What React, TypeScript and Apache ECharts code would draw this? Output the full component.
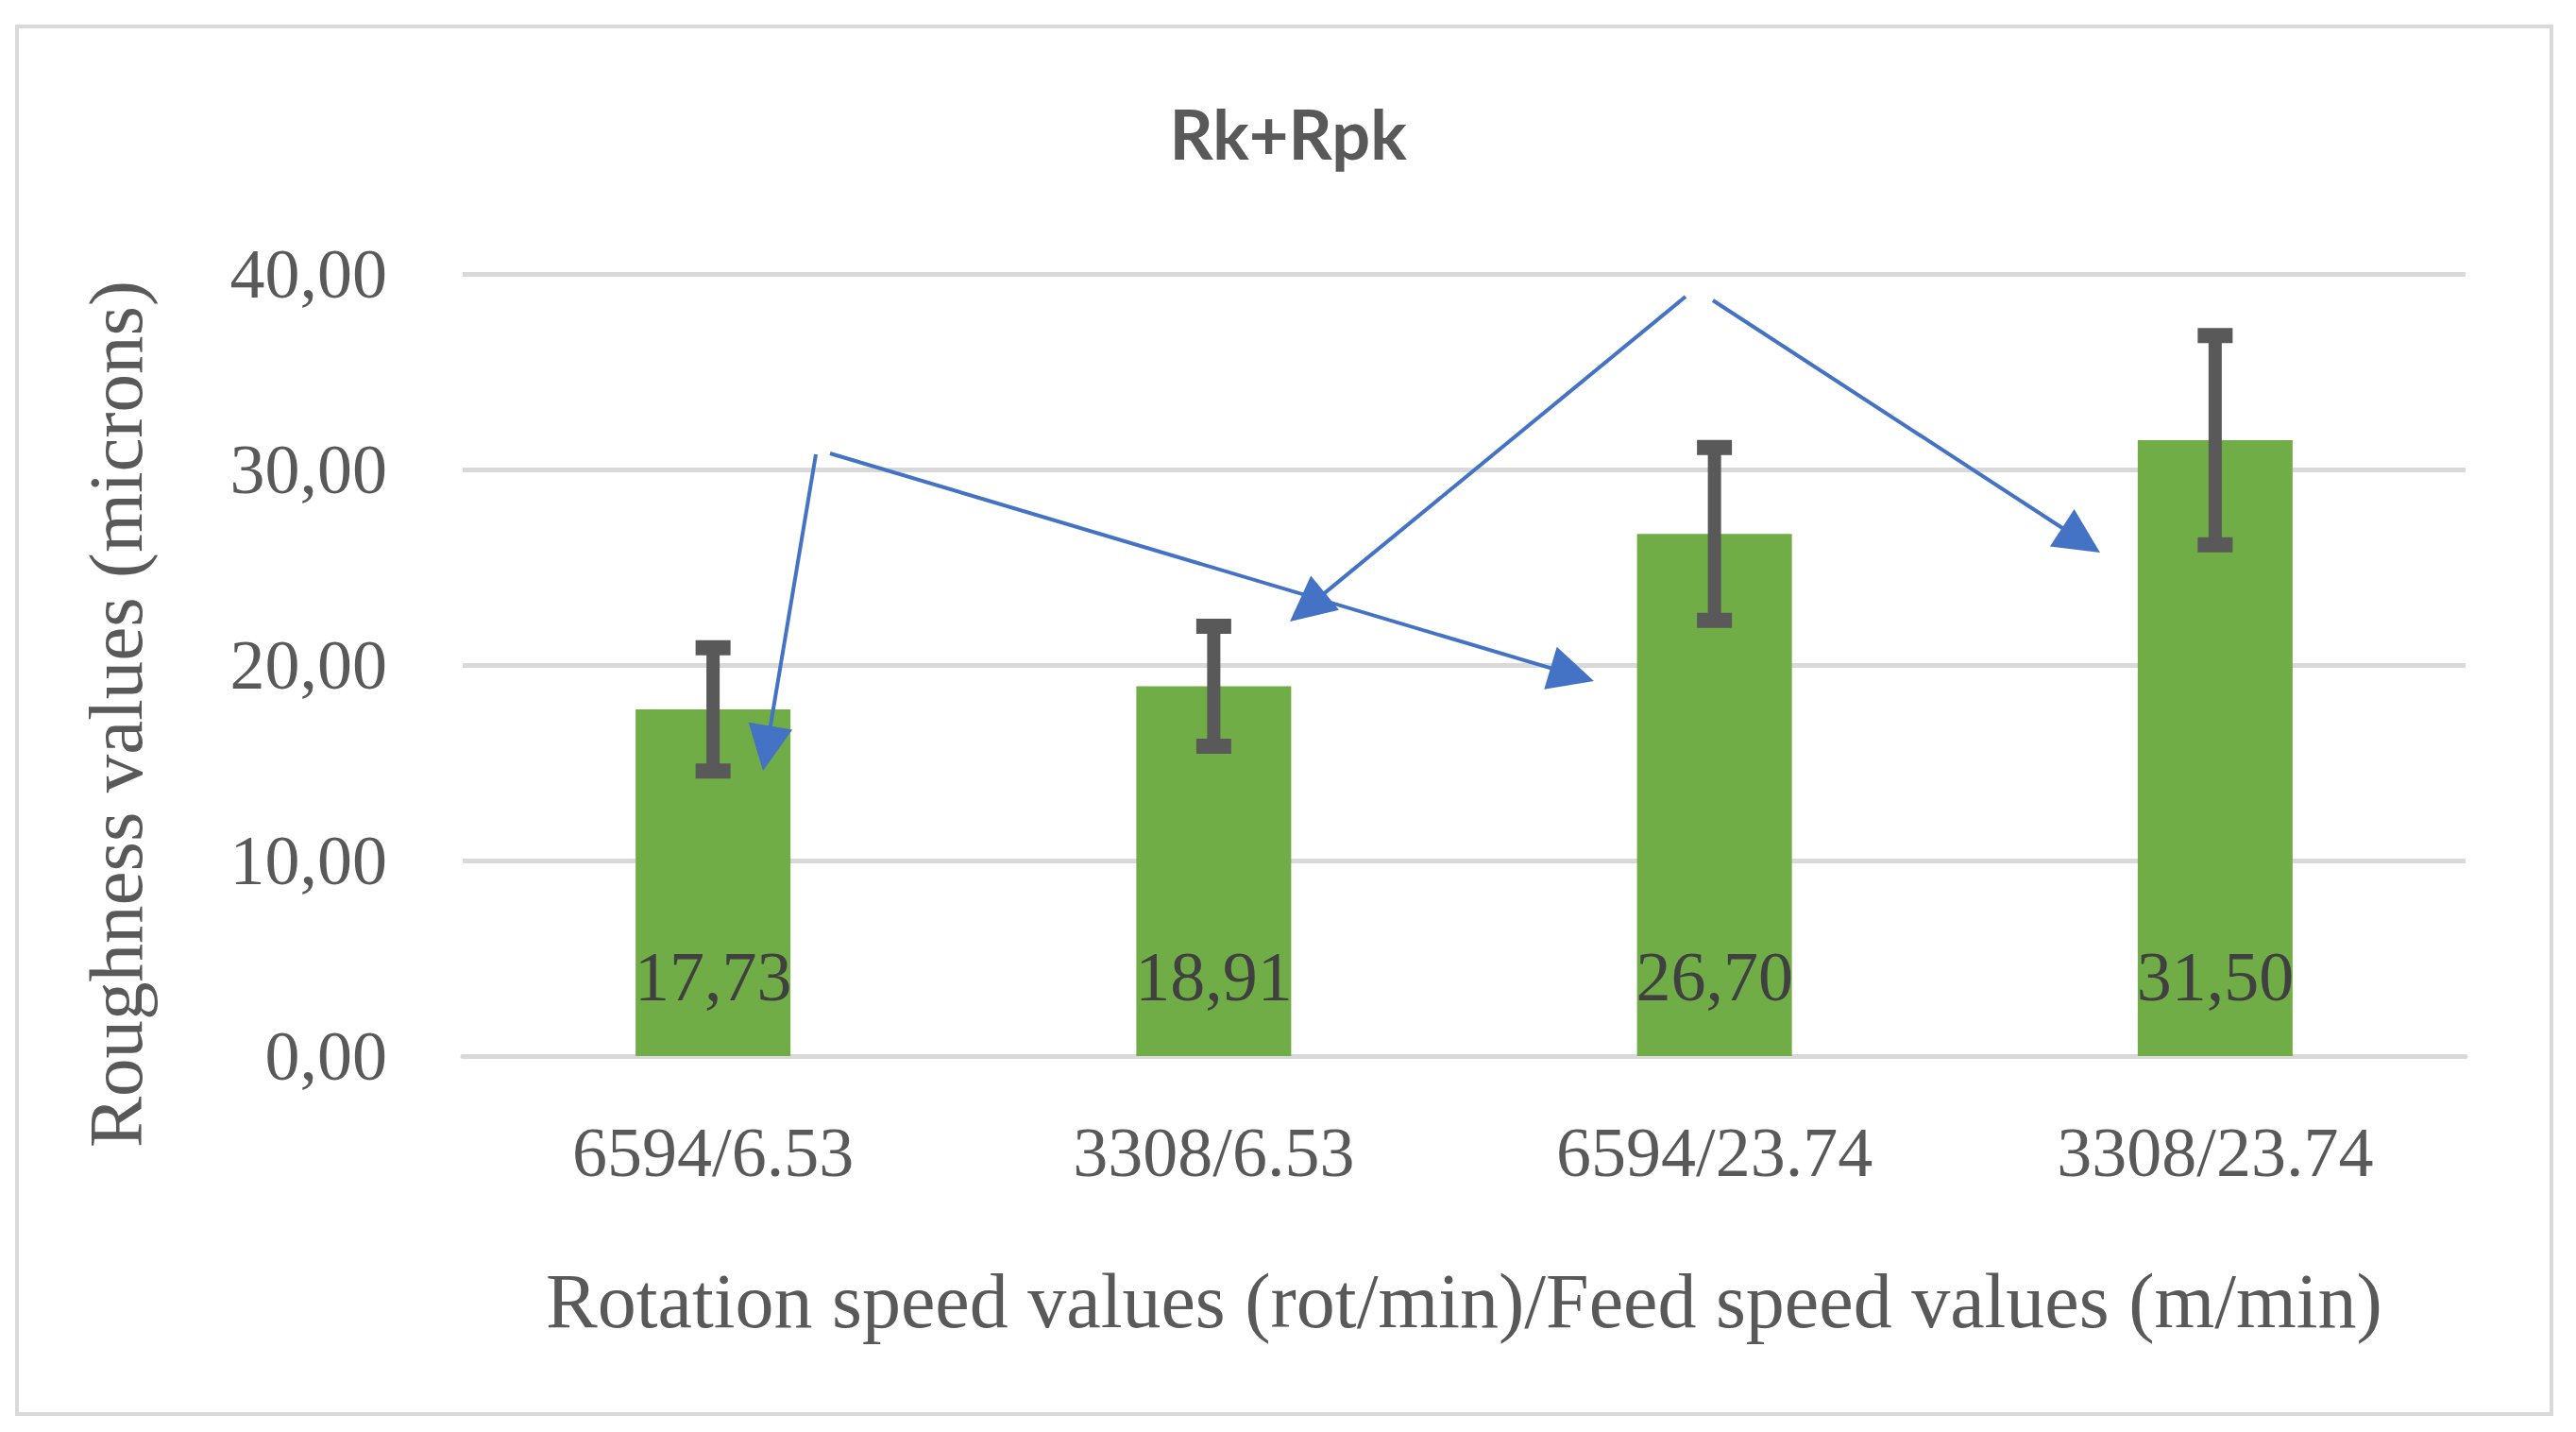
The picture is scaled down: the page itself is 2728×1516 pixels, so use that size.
import React, { useEffect, useRef } from "react";
import * as echarts from "echarts";

const categories = ["6594/6.53", "3308/6.53", "6594/23.74", "3308/23.74"];
const means = [17.73, 18.91, 26.7, 31.5];
const errors = [3.15, 3.07, 4.42, 5.35];
const yTicks = { min: 0, max: 40, interval: 10 };
const titleText = "Rk+Rpk";
const xName = "Rotation speed values (rot/min)/Feed speed values (m/min)";
const yName = "Roughness values (microns)";
// annotation arrows (pixel positions): [startX, startY, tipX, tipY]
const arrows = [
  [864, 481, 808, 816],
  [879, 480, 1688, 721],
  [1785, 314, 1366, 658],
  [1814, 318, 2224, 585],
];

const SERIF = "'Liberation Serif', 'DejaVu Serif', serif";
const GRAY = "#595959";

function arrowGraphics() {
  const out: any[] = [];
  const len = 48;
  const half = 23.5;
  arrows.forEach(([sx, sy, tx, ty]) => {
    const dx = tx - sx;
    const dy = ty - sy;
    const L = Math.sqrt(dx * dx + dy * dy);
    const ux = dx / L;
    const uy = dy / L;
    const bx = tx - ux * len;
    const by = ty - uy * len;
    const nx = -uy;
    const ny = ux;
    out.push({
      type: "line",
      z: 100,
      shape: { x1: sx, y1: sy, x2: bx + ux * 4, y2: by + uy * 4 },
      style: { stroke: "#4472C4", lineWidth: 4 },
    });
    out.push({
      type: "polygon",
      z: 100,
      shape: {
        points: [
          [tx, ty],
          [bx + nx * half, by + ny * half],
          [bx - nx * half, by - ny * half],
        ],
      },
      style: { fill: "#4472C4" },
    });
  });
  return out;
}

export default function App() {
  const ref = useRef<HTMLDivElement>(null);
  useEffect(() => {
    if (!ref.current) return;
    const chart = echarts.init(ref.current, null, { renderer: "svg" });
    const errData = categories.map((_, i) => [i, means[i] + errors[i], means[i] - errors[i]]);
    chart.setOption({
      animation: false,
      backgroundColor: "#ffffff",
      title: {
        text: titleText,
        left: "center",
        top: 100,
        textStyle: { fontFamily: "Lato, 'Open Sans', sans-serif", fontWeight: "bold", fontSize: 72, color: GRAY },
      },
      grid: { left: 490, right: 117, top: 290, bottom: 398, containLabel: false },
      xAxis: {
        type: "category",
        data: categories,
        axisTick: { show: false },
        axisLine: { show: true, lineStyle: { color: "#d9d9d9", width: 5 } },
        axisLabel: { fontFamily: SERIF, fontSize: 74, color: GRAY, margin: 65 },
        name: xName,
        nameLocation: "middle",
        nameGap: 218,
        nameTextStyle: { fontFamily: SERIF, fontSize: 82, color: GRAY },
      },
      yAxis: {
        type: "value",
        min: yTicks.min,
        max: yTicks.max,
        interval: yTicks.interval,
        axisLine: { show: false },
        axisTick: { show: false },
        splitLine: { lineStyle: { color: "#d9d9d9", width: 5 } },
        axisLabel: {
          fontFamily: SERIF,
          fontSize: 74,
          color: GRAY,
          margin: 80,
          formatter: (v: number) => v.toFixed(2).replace(".", ","),
        },
      },
      series: [
        {
          type: "bar",
          data: means,
          barWidth: 164,
          itemStyle: { color: "#70AD47" },
          label: {
            show: true,
            position: "insideBottom",
            distance: 47,
            fontFamily: SERIF,
            fontSize: 74,
            color: "#404040",
            formatter: (p: any) => Number(p.value).toFixed(2).replace(".", ","),
          },
          z: 2,
        },
        {
          type: "custom",
          data: errData,
          encode: { x: 0, y: [1, 2] },
          z: 5,
          renderItem: (params: any, api: any) => {
            const x = api.value(0);
            const hi = api.coord([x, api.value(1)]);
            const lo = api.coord([x, api.value(2)]);
            const style = { fill: GRAY };
            return {
              type: "group",
              children: [
                {
                  type: "line",
                  shape: { x1: hi[0], y1: hi[1], x2: lo[0], y2: lo[1] },
                  style: { stroke: GRAY, lineWidth: 14 },
                },
                { type: "rect", shape: { x: hi[0] - 18.5, y: hi[1] - 8, width: 37, height: 16 }, style },
                { type: "rect", shape: { x: lo[0] - 18.5, y: lo[1] - 8, width: 37, height: 16 }, style },
              ],
            };
          },
        },
      ],
      graphic: [
        {
          type: "rect",
          z: -1,
          shape: { x: 18, y: 28, width: 2684, height: 1469 },
          style: { fill: "none", stroke: "#d9d9d9", lineWidth: 4 },
        },
        {
          type: "text",
          x: 123,
          y: 756,
          rotation: Math.PI / 2,
          style: {
            text: yName,
            fontFamily: SERIF,
            fontSize: 81,
            fill: GRAY,
            textAlign: "center",
            textVerticalAlign: "middle",
          },
        },
        ...arrowGraphics(),
      ],
    });
    return () => chart.dispose();
  }, []);
  return (
    <div
      ref={ref}
      style={{ position: "fixed", left: 0, top: 0, width: 2728, height: 1516, background: "#fff" }}
    />
  );
}
